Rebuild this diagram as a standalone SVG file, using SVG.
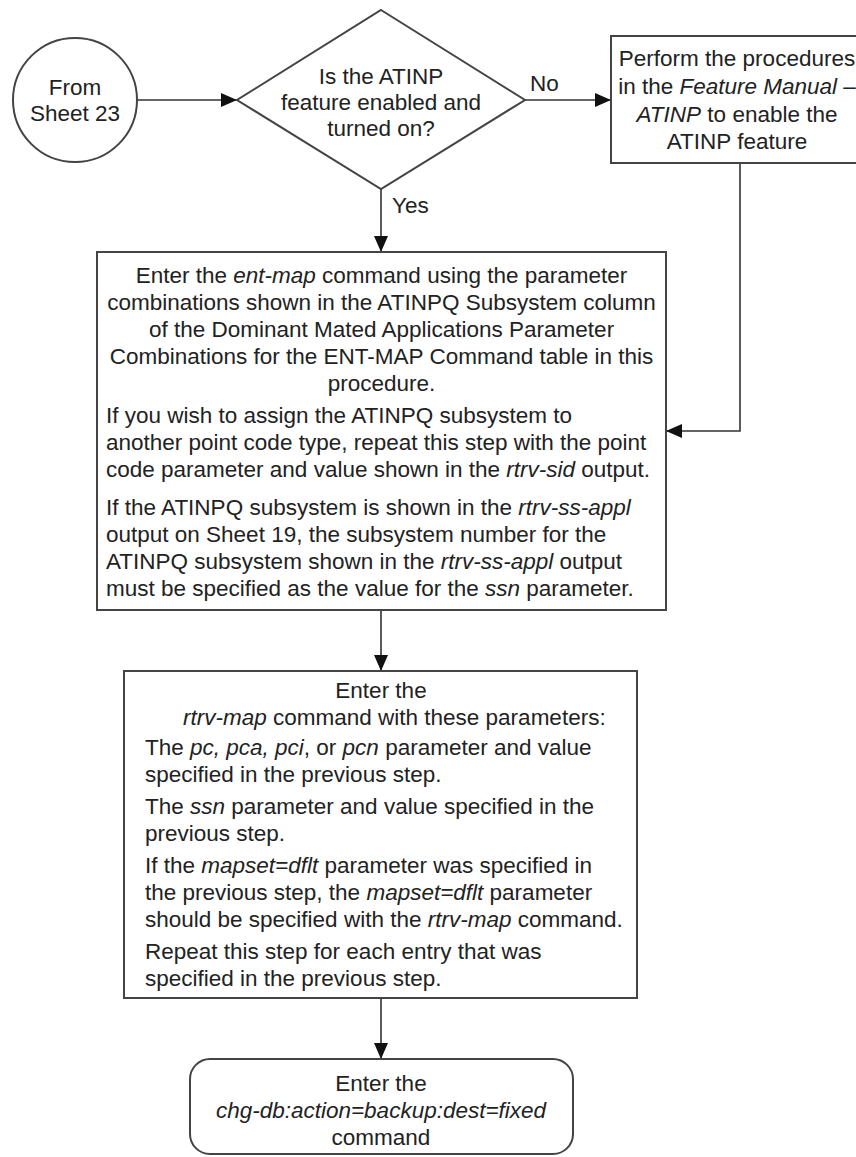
<svg xmlns="http://www.w3.org/2000/svg" width="856" height="1157" viewBox="0 0 856 1157">
<style>
text{font-family:"Liberation Sans",Arial,sans-serif;font-size:22.5px;fill:#222}
.c{text-anchor:middle}
.i{font-style:italic}
.shape{fill:#fff;stroke:#444;stroke-width:2}
.conn{fill:none;stroke:#333;stroke-width:1.6}
</style>
<defs>
<marker id="arr" viewBox="0 0 16 14" refX="16" refY="7" markerWidth="16" markerHeight="14" markerUnits="userSpaceOnUse" orient="auto">
<path d="M0,0 L16,7 L0,14 Z" fill="#111"/>
</marker>
</defs>
<g id="connectors">
<line class="conn" x1="137" y1="100" x2="237" y2="100" marker-end="url(#arr)"/>
<line class="conn" x1="525" y1="100" x2="611" y2="100" marker-end="url(#arr)"/>
<line class="conn" x1="381" y1="189" x2="381" y2="252" marker-end="url(#arr)"/>
<polyline class="conn" points="740,163 740,431 666,431" marker-end="url(#arr)"/>
<line class="conn" x1="381" y1="610" x2="381" y2="671" marker-end="url(#arr)"/>
<line class="conn" x1="381" y1="998" x2="381" y2="1059" marker-end="url(#arr)"/>
<text x="530" y="91">No</text>
<text x="392" y="213">Yes</text>
</g>
<g id="start">
<circle class="shape" cx="75" cy="100" r="62"/>
<text class="c" x="75" y="95">From</text>
<text class="c" x="75" y="121">Sheet 23</text>
</g>
<g id="decision">
<polygon class="shape" points="381,10 525,100 381,189 237,100"/>
<text class="c" x="381" y="84">Is the ATINP</text>
<text class="c" x="381" y="110">feature enabled and</text>
<text class="c" x="381" y="136">turned on?</text>
</g>
<g id="perform">
<rect class="shape" x="611" y="36" width="260" height="127"/>
<text class="c" x="737" y="66">Perform the procedures</text>
<text class="c" x="737" y="94">in the <tspan class="i">Feature Manual –</tspan></text>
<text class="c" x="737" y="122"><tspan class="i">ATINP</tspan> to enable the</text>
<text class="c" x="737" y="149">ATINP feature</text>
</g>
<g id="entmap">
<rect class="shape" x="97" y="252" width="569" height="358"/>
<text class="c" x="381.5" y="283">Enter the <tspan class="i">ent-map</tspan> command using the parameter</text>
<text class="c" x="381.5" y="310">combinations shown in the ATINPQ Subsystem column</text>
<text class="c" x="381.5" y="337">of the Dominant Mated Applications Parameter</text>
<text class="c" x="381.5" y="364">Combinations for the ENT-MAP Command table in this</text>
<text class="c" x="381.5" y="391">procedure.</text>
<text x="106" y="423">If you wish to assign the ATINPQ subsystem to</text>
<text x="106" y="450">another point code type, repeat this step with the point</text>
<text x="106" y="477">code parameter and value shown in the <tspan class="i">rtrv-sid</tspan> output.</text>
<text x="106" y="515">If the ATINPQ subsystem is shown in the <tspan class="i">rtrv-ss-appl</tspan></text>
<text x="106" y="542">output on Sheet 19, the subsystem number for the</text>
<text x="106" y="569">ATINPQ subsystem shown in the <tspan class="i">rtrv-ss-appl</tspan> output</text>
<text x="106" y="596">must be specified as the value for the <tspan class="i">ssn</tspan> parameter.</text>
</g>
<g id="rtrvmap">
<rect class="shape" x="124" y="671" width="513" height="327"/>
<text class="c" x="381" y="698">Enter the</text>
<text x="183" y="725"><tspan class="i">rtrv-map</tspan> command with these parameters:</text>
<text x="145" y="755">The <tspan class="i">pc, pca, pci</tspan>, or <tspan class="i">pcn</tspan> parameter and value</text>
<text x="145" y="782">specified in the previous step.</text>
<text x="145" y="814">The <tspan class="i">ssn</tspan> parameter and value specified in the</text>
<text x="145" y="841">previous step.</text>
<text x="145" y="873">If the <tspan class="i">mapset=dflt</tspan> parameter was specified in</text>
<text x="145" y="900">the previous step, the <tspan class="i">mapset=dflt</tspan> parameter</text>
<text x="145" y="927">should be specified with the <tspan class="i">rtrv-map</tspan> command.</text>
<text x="145" y="959">Repeat this step for each entry that was</text>
<text x="145" y="986">specified in the previous step.</text>
</g>
<g id="backup">
<rect class="shape" x="190" y="1059" width="383" height="95" rx="20" ry="20"/>
<text class="c" x="381" y="1091">Enter the</text>
<text class="c i" x="381" y="1118">chg-db:action=backup:dest=fixed</text>
<text class="c" x="381" y="1145">command</text>
</g>
</svg>
